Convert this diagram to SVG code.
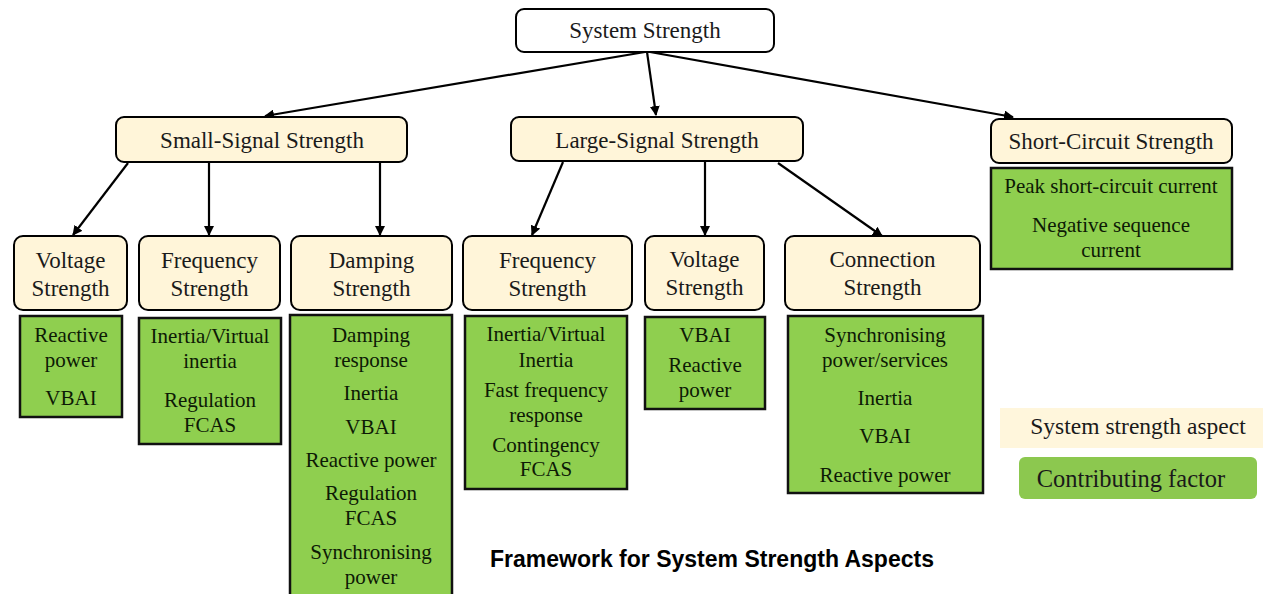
<svg xmlns="http://www.w3.org/2000/svg" width="1263" height="594" viewBox="0 0 1263 594">
<defs>
<marker id="ah" viewBox="0 0 10 10" refX="9" refY="5" markerWidth="10" markerHeight="10" markerUnits="userSpaceOnUse" orient="auto">
<path d="M0,0 L10,5 L0,10 z" fill="#000"/>
</marker>
<style>
.top{fill:#fff;stroke:#000;stroke-width:2}
.asp{fill:#FFF5D9;stroke:#000;stroke-width:2}
.fac{fill:#8FCF4F;stroke:#111;stroke-width:2.5}
.h{font-family:"Liberation Serif","Times New Roman",serif;font-size:23px;fill:#1a1a1a;text-anchor:middle}
.f{font-family:"Liberation Serif","Times New Roman",serif;font-size:21px;fill:#0d1a05;text-anchor:middle}
.c{fill:none;stroke:#000;stroke-width:2.2;marker-end:url(#ah)}
</style>
</defs>
<rect width="1263" height="594" fill="#fff"/>

<g id="connectors">
<line class="c" x1="645" y1="52" x2="265" y2="116"/>
<line class="c" x1="647" y1="52" x2="656" y2="115"/>
<line class="c" x1="650" y1="52" x2="1013" y2="117"/>
<line class="c" x1="128" y1="163" x2="73" y2="235"/>
<line class="c" x1="209" y1="162" x2="209" y2="235"/>
<line class="c" x1="380" y1="162" x2="380" y2="235"/>
<line class="c" x1="563" y1="162" x2="532" y2="235"/>
<line class="c" x1="705" y1="161" x2="705" y2="235"/>
<line class="c" x1="778" y1="163" x2="882" y2="236"/>
</g>

<g id="system-strength">
<rect class="top" x="516" y="9" width="258" height="43" rx="8"/>
<text class="h" x="645" y="38">System Strength</text>
</g>

<g id="small-signal">
<rect class="asp" x="116" y="117" width="291" height="45" rx="8"/>
<text class="h" x="262" y="148">Small-Signal Strength</text>
</g>
<g id="large-signal">
<rect class="asp" x="511" y="117" width="292" height="44" rx="8"/>
<text class="h" x="657" y="148">Large-Signal Strength</text>
</g>
<g id="short-circuit">
<rect class="asp" x="991" y="119" width="241" height="44" rx="8"/>
<text class="h" x="1111" y="149">Short-Circuit Strength</text>
</g>

<g id="ss-voltage">
<rect class="asp" x="14" y="236" width="113" height="74" rx="9"/>
<text class="h" x="70.5" y="268">Voltage</text>
<text class="h" x="70.5" y="296">Strength</text>
</g>
<g id="ss-frequency">
<rect class="asp" x="139" y="236" width="141" height="74" rx="9"/>
<text class="h" x="209.5" y="268">Frequency</text>
<text class="h" x="209.5" y="296">Strength</text>
</g>
<g id="ss-damping">
<rect class="asp" x="291" y="236" width="161" height="74" rx="9"/>
<text class="h" x="371.5" y="268">Damping</text>
<text class="h" x="371.5" y="296">Strength</text>
</g>
<g id="ls-frequency">
<rect class="asp" x="463" y="236" width="169" height="74" rx="9"/>
<text class="h" x="547.5" y="268">Frequency</text>
<text class="h" x="547.5" y="296">Strength</text>
</g>
<g id="ls-voltage">
<rect class="asp" x="645" y="236" width="119" height="74" rx="9"/>
<text class="h" x="704.5" y="267">Voltage</text>
<text class="h" x="704.5" y="295">Strength</text>
</g>
<g id="ls-connection">
<rect class="asp" x="785" y="236" width="195" height="74" rx="9"/>
<text class="h" x="882.5" y="267">Connection</text>
<text class="h" x="882.5" y="295">Strength</text>
</g>

<g id="f-ss-voltage">
<rect class="fac" x="20" y="316" width="102" height="101"/>
<text class="f" x="71" y="342">Reactive</text>
<text class="f" x="71" y="367">power</text>
<text class="f" x="71" y="405">VBAI</text>
</g>
<g id="f-ss-frequency">
<rect class="fac" x="139" y="318" width="142" height="126"/>
<text class="f" x="210" y="343">Inertia/Virtual</text>
<text class="f" x="210" y="368">inertia</text>
<text class="f" x="210" y="407">Regulation</text>
<text class="f" x="210" y="432">FCAS</text>
</g>
<g id="f-ss-damping">
<rect class="fac" x="290" y="315" width="162" height="290"/>
<text class="f" x="371" y="342">Damping</text>
<text class="f" x="371" y="367">response</text>
<text class="f" x="371" y="400">Inertia</text>
<text class="f" x="371" y="434">VBAI</text>
<text class="f" x="371" y="467">Reactive power</text>
<text class="f" x="371" y="500">Regulation</text>
<text class="f" x="371" y="525">FCAS</text>
<text class="f" x="371" y="559">Synchronising</text>
<text class="f" x="371" y="584">power</text>
</g>
<g id="f-ls-frequency">
<rect class="fac" x="465" y="316" width="162" height="173"/>
<text class="f" x="546" y="341">Inertia/Virtual</text>
<text class="f" x="546" y="367">Inertia</text>
<text class="f" x="546" y="397">Fast frequency</text>
<text class="f" x="546" y="422">response</text>
<text class="f" x="546" y="452">Contingency</text>
<text class="f" x="546" y="476">FCAS</text>
</g>
<g id="f-ls-voltage">
<rect class="fac" x="645" y="317" width="120" height="92"/>
<text class="f" x="705" y="342">VBAI</text>
<text class="f" x="705" y="372">Reactive</text>
<text class="f" x="705" y="397">power</text>
</g>
<g id="f-ls-connection">
<rect class="fac" x="788" y="316" width="195" height="177"/>
<text class="f" x="885" y="342">Synchronising</text>
<text class="f" x="885" y="367">power/services</text>
<text class="f" x="885" y="405">Inertia</text>
<text class="f" x="885" y="443">VBAI</text>
<text class="f" x="885" y="482">Reactive power</text>
</g>
<g id="f-short-circuit">
<rect class="fac" x="991" y="168" width="241" height="101"/>
<text class="f" x="1111" y="193">Peak short-circuit current</text>
<text class="f" x="1111" y="232">Negative sequence</text>
<text class="f" x="1111" y="257">current</text>
</g>

<g id="legend">
<rect x="1000" y="408" width="263" height="40" fill="#FFF6DC"/>
<text class="h" x="1138" y="434" style="font-size:23.5px">System strength aspect</text>
<rect x="1019" y="457" width="238" height="42" rx="6" fill="#8CC84F"/>
<text class="h" x="1131" y="487" style="font-size:24.5px">Contributing factor</text>
</g>

<text x="712" y="567" text-anchor="middle" style="font-family:'Liberation Sans',Arial,sans-serif;font-weight:bold;font-size:23px;fill:#000">Framework for System Strength Aspects</text>
</svg>
